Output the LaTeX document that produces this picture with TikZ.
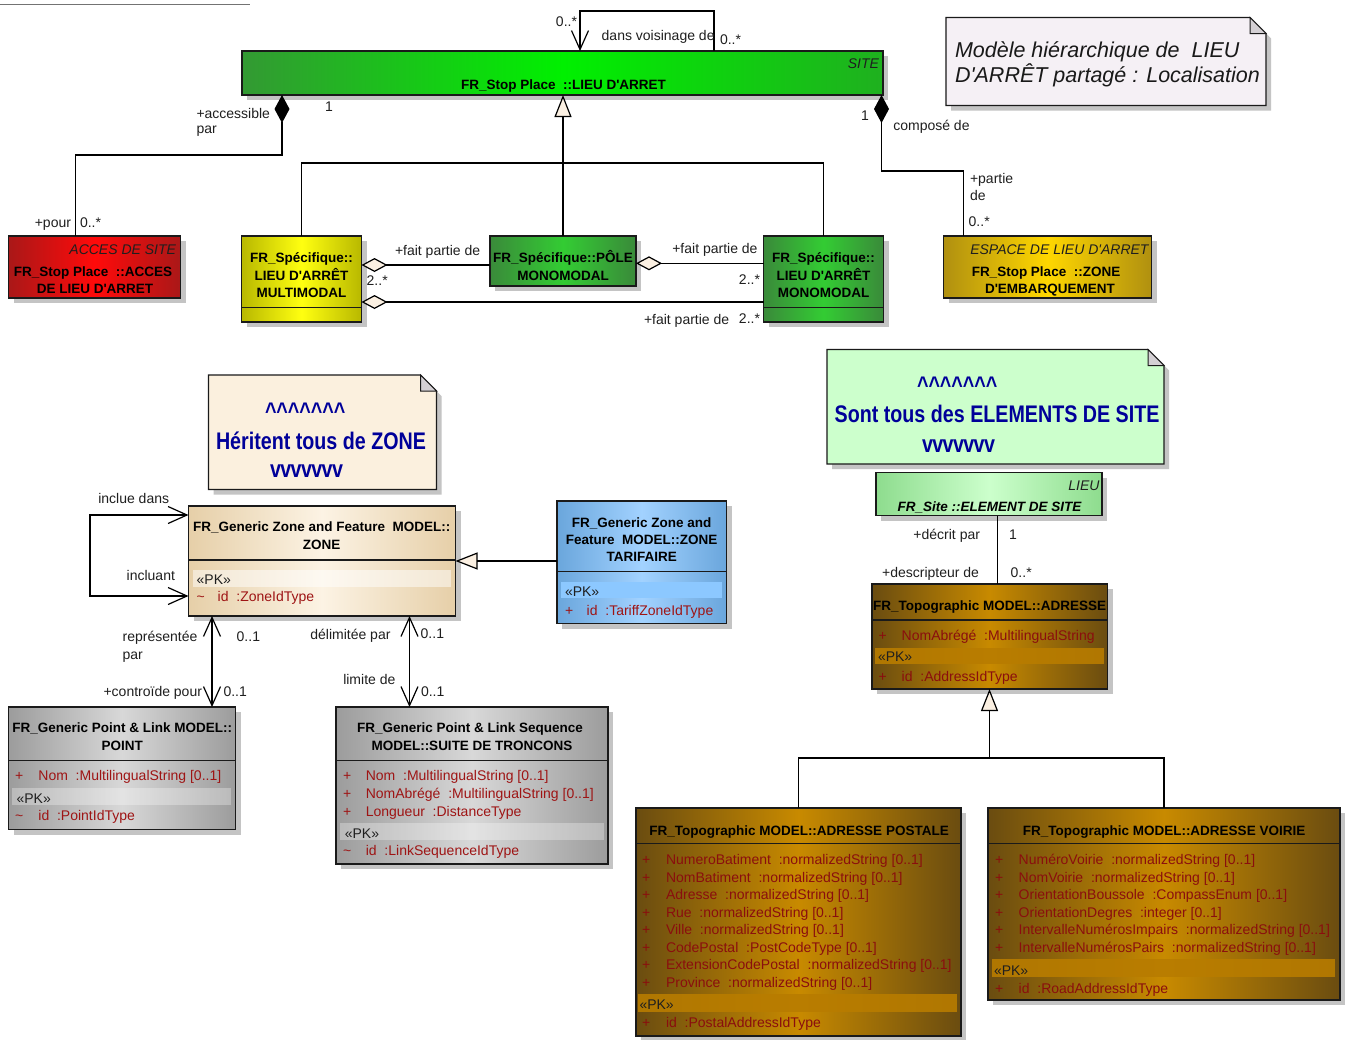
\documentclass[tikz,border=0pt]{standalone}
\usepackage{fontspec}
\setmainfont{Liberation Sans}[Ligatures=TeXOff]
\newfontfamily\narrowsans[FakeStretch=0.82,Ligatures=TeXOff]{Liberation Sans}
\usetikzlibrary{arrows.meta,shadows,calc}

\definecolor{edgec}{HTML}{1A1A1A}
\definecolor{shadowc}{HTML}{C4C4C4}
\definecolor{cream}{HTML}{FBF0E2}
\definecolor{attrc}{HTML}{9E1414}
\definecolor{attrdark}{HTML}{8A0E0E}
\definecolor{notetext}{HTML}{000099}
% class fills (edge / middle)
\definecolor{siteL}{HTML}{339933}\definecolor{siteM}{HTML}{00F000}\definecolor{siteR}{HTML}{1FB01F}
\definecolor{accE}{HTML}{AA1818}\definecolor{accM}{HTML}{FF0A0A}
\definecolor{yelE}{HTML}{B8B800}\definecolor{yelM}{HTML}{FFFF10}
\definecolor{grnE}{HTML}{3A8A3A}\definecolor{grnM}{HTML}{33CC33}
\definecolor{golE}{HTML}{B09010}\definecolor{golM}{HTML}{FFD700}
\definecolor{zonE}{HTML}{E6CFA8}\definecolor{zonM}{HTML}{FCF3E4}
\definecolor{tarE}{HTML}{6AA6DC}\definecolor{tarM}{HTML}{A2D2FF}
\definecolor{gryE}{HTML}{9C9C9C}\definecolor{gryM}{HTML}{D8D8D8}
\definecolor{lieE}{HTML}{8EDC8E}\definecolor{lieM}{HTML}{CCFFCC}
\definecolor{brnE}{HTML}{6A4C10}\definecolor{brnM}{HTML}{C88A00}
\definecolor{brnBand}{HTML}{B87C00}
\definecolor{tarBand}{HTML}{8CC8FF}
\definecolor{noteA}{HTML}{F5F0F5}
\definecolor{noteB}{HTML}{FBF0DE}
\definecolor{noteC}{HTML}{CCFFCC}
\definecolor{foldc}{HTML}{D4D0D4}

\newcommand\zigzag{v\kern-0.6pt v\kern-0.6pt v\kern-0.6pt v\kern-0.6pt v\kern-0.6pt v\kern-0.6pt v}

\begin{document}
\begin{tikzpicture}[x=1pt,y=-1pt,
  every node/.style={inner sep=0pt,outer sep=0pt},
  cls/.style={draw=edgec,line width=1.3pt,anchor=north west,
    drop shadow={shadow xshift=5pt,shadow yshift=-5pt,fill=shadowc,opacity=1}},
  notebox/.style={draw=edgec,line width=1.2pt,
    drop shadow={shadow xshift=5pt,shadow yshift=-5pt,fill=shadowc,opacity=1}},
  sepline/.style={draw=edgec,line width=1.2pt},
  lbl/.style={font=\fontsize{14}{16}\selectfont,text=black!88,anchor=base west},
  lblr/.style={lbl,anchor=base east},
  hdr/.style={font=\fontsize{13.5}{16}\selectfont\bfseries,text=black,anchor=base},
  stereo/.style={font=\fontsize{14}{16}\selectfont\itshape,text=black!88,anchor=base east},
  attr/.style={font=\fontsize{14}{16}\selectfont,text=attrc,anchor=base west},
  pk/.style={font=\fontsize{14}{16}\selectfont,text=black!88,anchor=base west},
  notefont/.style={font=\fontsize{24}{28}\narrowsans\bfseries,text=notetext,anchor=base west},
  link/.style={draw=black,line width=1.2pt},
  comp/.style={link,{Diamond[length=28pt,width=15pt]}-},
  agg/.style={link,{Diamond[length=26pt,width=14pt,fill=cream]}-},
  gen/.style={link,-{Triangle[length=22pt,width=17pt,fill=cream]}},
  nav/.style={link,-{Straight Barb[length=19pt,width=17pt]}},
  navboth/.style={link,{Straight Barb[length=19pt,width=17pt]}-{Straight Barb[length=19pt,width=17pt]}},
]
\useasboundingbox (0,0) rectangle (1354,1039);
\fill[white] (0,0) rectangle (1354,1039);
\draw[black!55,line width=0.9pt] (0,4) -- (250,4);

% ---------------- classes ----------------
\node[cls,minimum width=641pt,minimum height=44pt,left color=siteL,right color=siteR,middle color=siteM] (site) at (242,51) {};
\node[cls,minimum width=172pt,minimum height=62pt,left color=accE,right color=accE,middle color=accM] (acc) at (8.5,236) {};
\node[cls,minimum width=120pt,minimum height=86pt,left color=yelE,right color=yelE,middle color=yelM] (multi) at (241.5,236) {};
\node[cls,minimum width=146pt,minimum height=50pt,left color=grnE,right color=grnE,middle color=grnM] (pole) at (490,236) {};
\node[cls,minimum width=120pt,minimum height=86pt,left color=grnE,right color=grnE,middle color=grnM] (mono) at (763.5,236) {};
\node[cls,minimum width=208pt,minimum height=62pt,left color=golE,right color=golE,middle color=golM] (esp) at (943.5,236) {};
\node[cls,minimum width=267pt,minimum height=110pt,left color=zonE,right color=zonE,middle color=zonM] (zone) at (188.5,506) {};
\node[cls,minimum width=169.5pt,minimum height=122.5pt,left color=tarE,right color=tarE,middle color=tarM] (tar) at (557,501) {};
\node[cls,minimum width=227pt,minimum height=122.5pt,left color=gryE,right color=gryE,middle color=gryM] (point) at (8.5,707) {};
\node[cls,minimum width=272pt,minimum height=157pt,left color=gryE,right color=gryE,middle color=gryM] (suite) at (336,707) {};
\node[cls,minimum width=226pt,minimum height=43pt,left color=lieE,right color=lieE,middle color=lieM] (lieu) at (876,472.5) {};
\node[cls,minimum width=235.5pt,minimum height=105pt,left color=brnE,right color=brnE,middle color=brnM] (adr) at (872,584) {};
\node[cls,minimum width=325pt,minimum height=228pt,left color=brnE,right color=brnE,middle color=brnM] (postale) at (636,808) {};
\node[cls,minimum width=352pt,minimum height=192pt,left color=brnE,right color=brnE,middle color=brnM] (voirie) at (988,808) {};

% compartment separators
\draw[sepline] ($(multi.north west)+(0,71.3)$) -- ($(multi.north east)+(0,71.3)$);
\draw[sepline] ($(mono.north west)+(0,71.3)$) -- ($(mono.north east)+(0,71.3)$);
\draw[sepline] ($(zone.north west)+(0,54)$) -- ($(zone.north east)+(0,54)$);
\draw[sepline] ($(tar.north west)+(0,70.5)$) -- ($(tar.north east)+(0,70.5)$);
\draw[sepline] ($(point.north west)+(0,53.5)$) -- ($(point.north east)+(0,53.5)$);
\draw[sepline] ($(suite.north west)+(0,53.5)$) -- ($(suite.north east)+(0,53.5)$);
\draw[sepline] ($(adr.north west)+(0,36)$) -- ($(adr.north east)+(0,36)$);
\draw[sepline] ($(postale.north west)+(0,35.3)$) -- ($(postale.north east)+(0,35.3)$);
\draw[sepline] ($(voirie.north west)+(0,35.3)$) -- ($(voirie.north east)+(0,35.3)$);

% stereotype bands
\fill[white,opacity=0.5] (192.5,569.5) rectangle (450.5,586.5);
\fill[tarBand] (561,581.5) rectangle (722,598.3);
\fill[white,opacity=0.3] (12,788.3) rectangle (230.5,805);
\fill[white,opacity=0.3] (340,823.3) rectangle (604,840);
\fill[brnBand,opacity=0.9] (875,647.7) rectangle (1104,664.3);
\fill[brnBand,opacity=0.9] (638,994.3) rectangle (957,1011.7);
\fill[brnBand,opacity=0.9] (992.4,959.3) rectangle (1335,976.7);

% ---------------- notes ----------------
\filldraw[notebox,fill=noteA] (946,17.5) -- (1250,17.5) -- (1266,33.5) -- (1266,105.5) -- (946,105.5) -- cycle;
\filldraw[draw=edgec,line width=1pt,fill=foldc] (1250,17.5) -- (1266,33.5) -- (1250,33.5) -- cycle;
\filldraw[notebox,fill=noteB] (208.5,375) -- (420.5,375) -- (436.5,391) -- (436.5,489.5) -- (208.5,489.5) -- cycle;
\filldraw[draw=edgec,line width=1pt,fill=foldc] (420.5,375) -- (436.5,391) -- (420.5,391) -- cycle;
\filldraw[notebox,fill=noteC] (827,349.5) -- (1148,349.5) -- (1164,365.5) -- (1164,464) -- (827,464) -- cycle;
\filldraw[draw=edgec,line width=1pt,fill=foldc] (1148,349.5) -- (1164,365.5) -- (1148,365.5) -- cycle;

\node[font=\fontsize{21.5}{26}\selectfont\itshape,text=black!90,anchor=base west] (nA1) at (955,57.3) {Modèle hiérarchique de\ \ LIEU};
\node[font=\fontsize{21.5}{26}\selectfont\itshape,text=black!90,anchor=base west] (nA2) at (955,82.7) {D'ARRÊT partagé : Localisation};

\node[notefont] (nB1) at (265,419) {\textasciicircum\textasciicircum\textasciicircum\textasciicircum\textasciicircum\textasciicircum\textasciicircum};
\node[notefont] (nB2) at (216,449.3) {Héritent tous de ZONE};
\node[notefont] (nB3) at (270,477.3) {\zigzag};
\node[notefont] (nC1) at (917,393) {\textasciicircum\textasciicircum\textasciicircum\textasciicircum\textasciicircum\textasciicircum\textasciicircum};
\node[notefont] (nC2) at (834.7,422.7) {Sont tous des ELEMENTS DE SITE};
\node[notefont] (nC3) at (922,452.7) {\zigzag};

% ---------------- class texts ----------------
\node[stereo] (siteS) at (879,68.5) {SITE};
\node[hdr] (siteN) at (563.5,89) {FR\_Stop Place\ \ ::LIEU D'ARRET};

\node[stereo] (accS) at (176,254.5) {ACCES DE SITE};
\node[hdr] (accN1) at (93,276) {FR\_Stop Place\ \ ::ACCES};
\node[hdr] (accN2) at (95,293) {DE LIEU D'ARRET};

\node[hdr] (multiN1) at (301.5,262) {FR\_Spécifique::};
\node[hdr] (multiN2) at (301.5,280) {LIEU D'ARRÊT};
\node[hdr] (multiN3) at (301.5,297) {MULTIMODAL};

\node[hdr] (poleN1) at (563,262) {FR\_Spécifique::PÔLE};
\node[hdr] (poleN2) at (563,280) {MONOMODAL};

\node[hdr] (monoN1) at (823.5,262) {FR\_Spécifique::};
\node[hdr] (monoN2) at (823.5,280) {LIEU D'ARRÊT};
\node[hdr] (monoN3) at (823.5,297) {MONOMODAL};

\node[stereo] (espS) at (1148.5,254.5) {ESPACE DE LIEU D'ARRET};
\node[hdr] (espN1) at (1046,276) {FR\_Stop Place\ \ ::ZONE};
\node[hdr] (espN2) at (1050,293) {D'EMBARQUEMENT};

\node[hdr] (zoneN1) at (321.7,531.7) {FR\_Generic Zone and Feature\ \ MODEL::};
\node[hdr] (zoneN2) at (321.7,549.3) {ZONE};
\node[pk] (zonePK) at (196.7,584) {«PK»};
\node[attr] (zoneV) at (196.7,601.7) {\textasciitilde};
\node[attr] (zoneA) at (217.7,601.7) {id\ \ :ZoneIdType};

\node[hdr] (tarN1) at (641.7,527.3) {FR\_Generic Zone and};
\node[hdr] (tarN2) at (641.7,544) {Feature\ \ MODEL::ZONE};
\node[hdr] (tarN3) at (641.7,561.7) {TARIFAIRE};
\node[pk] (tarPK) at (565,596.7) {«PK»};
\node[attr] (tarV) at (565,615.7) {+};
\node[attr] (tarA) at (586.7,615.7) {id\ \ :TariffZoneIdType};

\node[hdr] (pointN1) at (122.3,732.7) {FR\_Generic Point \& Link MODEL::};
\node[hdr] (pointN2) at (122.3,750.7) {POINT};
\node[attr] (pointV1) at (15,780.7) {+};
\node[attr] (pointA1) at (38.4,780.7) {Nom\ \ :MultilingualString [0..1]};
\node[pk] (pointPK) at (16.6,803.3) {«PK»};
\node[attr] (pointV2) at (15,820.7) {\textasciitilde};
\node[attr] (pointA2) at (38.4,820.7) {id\ \ :PointIdType};

\node[hdr] (suiteN1) at (470,732.7) {FR\_Generic Point \& Link Sequence};
\node[hdr] (suiteN2) at (472,750.7) {MODEL::SUITE DE TRONCONS};
\node[attr] (suiteV1) at (343,780.7) {+};
\node[attr] (suiteA1) at (365.8,780.7) {Nom\ \ :MultilingualString [0..1]};
\node[attr] (suiteV2) at (343,798.3) {+};
\node[attr] (suiteA2) at (365.8,798.3) {NomAbrégé\ \ :MultilingualString [0..1]};
\node[attr] (suiteV3) at (343,816) {+};
\node[attr] (suiteA3) at (365.8,816) {Longueur\ \ :DistanceType};
\node[pk] (suitePK) at (344.8,838.3) {«PK»};
\node[attr] (suiteV4) at (343,855.7) {\textasciitilde};
\node[attr] (suiteA4) at (365.8,855.7) {id\ \ :LinkSequenceIdType};

\node[stereo] (lieuS) at (1099.5,490) {LIEU};
\node[hdr,font=\fontsize{13.5}{16}\selectfont\bfseries\itshape] (lieuN) at (989.5,511) {FR\_Site ::ELEMENT DE SITE};

\node[hdr] (adrN) at (989.7,610.7) {FR\_Topographic MODEL::ADRESSE};
\node[attr,text=attrdark] (adrV1) at (878.5,640) {+};
\node[attr,text=attrdark] (adrA1) at (901.7,640) {NomAbrégé\ \ :MultilingualString};
\node[pk] (adrPK) at (878,661.7) {«PK»};
\node[attr,text=attrdark] (adrV2) at (878.5,681) {+};
\node[attr,text=attrdark] (adrA2) at (901.7,681) {id\ \ :AddressIdType};

\node[hdr] (postN) at (799,835) {FR\_Topographic MODEL::ADRESSE POSTALE};
\foreach \yy/\tt [count=\i] in {864.5/NumeroBatiment\ \ :normalizedString [0..1],
  882/NomBatiment\ \ :normalizedString [0..1],
  899.5/Adresse\ \ :normalizedString [0..1],
  917/Rue\ \ :normalizedString [0..1],
  934.5/Ville\ \ :normalizedString [0..1],
  952/CodePostal\ \ :PostCodeType [0..1],
  969.5/ExtensionCodePostal\ \ :normalizedString [0..1],
  987/Province\ \ :normalizedString [0..1]}{
  \node[attr,text=attrdark] (postV\i) at (642,\yy) {+};
  \node[attr,text=attrdark] (postA\i) at (666,\yy) {\tt};
}
\node[pk] (postPK) at (639.5,1009) {«PK»};
\node[attr,text=attrdark] (postV9) at (642,1027) {+};
\node[attr,text=attrdark] (postA9) at (666,1027) {id\ \ :PostalAddressIdType};

\node[hdr] (voirN) at (1164,835) {FR\_Topographic MODEL::ADRESSE VOIRIE};
\foreach \yy/\tt [count=\i] in {864.5/NuméroVoirie\ \ :normalizedString [0..1],
  882/NomVoirie\ \ :normalizedString [0..1],
  899.5/OrientationBoussole\ \ :CompassEnum [0..1],
  917/OrientationDegres\ \ :integer [0..1],
  934.5/IntervalleNumérosImpairs\ \ :normalizedString [0..1],
  952/IntervalleNumérosPairs\ \ :normalizedString [0..1]}{
  \node[attr,text=attrdark] (voirV\i) at (995,\yy) {+};
  \node[attr,text=attrdark] (voirA\i) at (1018.7,\yy) {\tt};
}
\node[pk] (voirPK) at (994,975) {«PK»};
\node[attr,text=attrdark] (voirV7) at (995,993) {+};
\node[attr,text=attrdark] (voirA7) at (1018.7,993) {id\ \ :RoadAddressIdType};

% ---------------- connectors ----------------
% self association on the stop place
\coordinate (svA) at ($(site.north west)+(338,0)$);
\coordinate (svB) at ($(site.north west)+(472,0)$);
\draw[nav] (svB) -- ++(0,-40) -| (svA);
\node[lblr] (svL1) at (577,26) {0..*};
\node[lbl] (svL2) at (601.7,40) {dans voisinage de};
\node[lbl] (svL3) at (720,44.5) {0..*};

% composition: access
\draw[comp] ($(site.south west)+(40,0)$) -- ++(0,60) -| ($(acc.north west)+(67,0)$);
\node[lbl] (acL1) at (196.5,118) {+accessible};
\node[lbl] (acL2) at (196.5,133.5) {par};
\node[lbl] (acL3) at (325,111) {1};
\node[lblr] (acL4) at (71,227) {+pour};
\node[lbl] (acL5) at (80,227) {0..*};

% composition: boarding spaces
\draw[comp] ($(site.south east)+(-1.5,0)$) -- ++(0,76) -| ($(esp.north west)+(20,0)$);
\node[lbl] (esL1) at (861,120) {1};
\node[lbl] (esL2) at (893.3,130) {composé de};
\node[lbl] (esL3) at (970,183) {+partie};
\node[lbl] (esL4) at (970,200) {de};
\node[lbl] (esL5) at (968.7,226) {0..*};

% generalisation of the three stop place kinds
\coordinate (gj1) at ($(pole.north)+(0,-73)$);
\draw[link] (multi.north) |- (gj1) -| (mono.north);
\draw[gen] (pole.north) -- (pole.north |- site.south);

% aggregations
\coordinate (ag1) at ($(multi.north east)+(0,29)$);
\coordinate (ag2) at ($(pole.north east)+(0,27.3)$);
\coordinate (ag3) at ($(multi.north east)+(0,66)$);
\draw[agg] (ag1) -- (pole.west |- ag1);
\draw[agg] (ag2) -- (mono.west |- ag2);
\draw[agg] (ag3) -- (mono.west |- ag3);
\node[lbl] (agL1) at (395,255) {+fait partie de};
\node[lbl] (agL2) at (366.7,285) {2..*};
\node[lbl] (agL3) at (672.3,253.3) {+fait partie de};
\node[lblr] (agL4) at (760,284) {2..*};
\node[lbl] (agL5) at (644,324.5) {+fait partie de};
\node[lblr] (agL6) at (760,323.5) {2..*};

% zone self association
\coordinate (zsA) at ($(zone.north west)+(0,9)$);
\coordinate (zsB) at ($(zone.north west)+(0,90)$);
\draw[navboth] (zsA) -- ++(-98.5,0) |- (zsB);
\node[lbl] (zsL1) at (98.3,503.3) {inclue dans};
\node[lbl] (zsL2) at (126.7,580) {incluant};

% tariff zone inherits from zone
\coordinate (tzA) at ($(tar.north west)+(0,60)$);
\draw[gen] (tzA) -- (zone.east |- tzA);

% zone -- point
\coordinate (zpA) at ($(zone.south west)+(23.5,0)$);
\draw[navboth] (zpA) -- (point.north -| zpA);
\node[lbl] (zpL1) at (122.7,641.7) {représentée};
\node[lbl] (zpL2) at (122.6,659) {par};
\node[lbl] (zpL3) at (236.7,641.7) {0..1};
\node[lblr] (zpL4) at (202,696) {+controïde pour};
\node[lbl] (zpL5) at (223.5,696) {0..1};

% zone -- link sequence
\coordinate (zlA) at ($(zone.south west)+(221,0)$);
\draw[navboth] (zlA) -- (suite.north -| zlA);
\node[lblr] (zlL1) at (390.5,639.3) {délimitée par};
\node[lbl] (zlL2) at (420.7,638.3) {0..1};
\node[lblr] (zlL3) at (395.4,684.3) {limite de};
\node[lbl] (zlL4) at (421,696) {0..1};

% site element -- address
\coordinate (laA) at ($(lieu.south west)+(121.5,0)$);
\draw[link] (laA) -- (adr.north -| laA);
\node[lblr] (laL1) at (980,539.3) {+décrit par};
\node[lbl] (laL2) at (1009,539) {1};
\node[lblr] (laL3) at (979,577.7) {+descripteur de};
\node[lbl] (laL4) at (1010.7,577.7) {0..*};

% address specialisations
\coordinate (gj2) at ($(adr.south west)+(117.5,69)$);
\draw[link] (postale.north) |- (gj2) -| (voirie.north);
\draw[gen] (gj2) -- (adr.south -| gj2);

\end{tikzpicture}
\end{document}
